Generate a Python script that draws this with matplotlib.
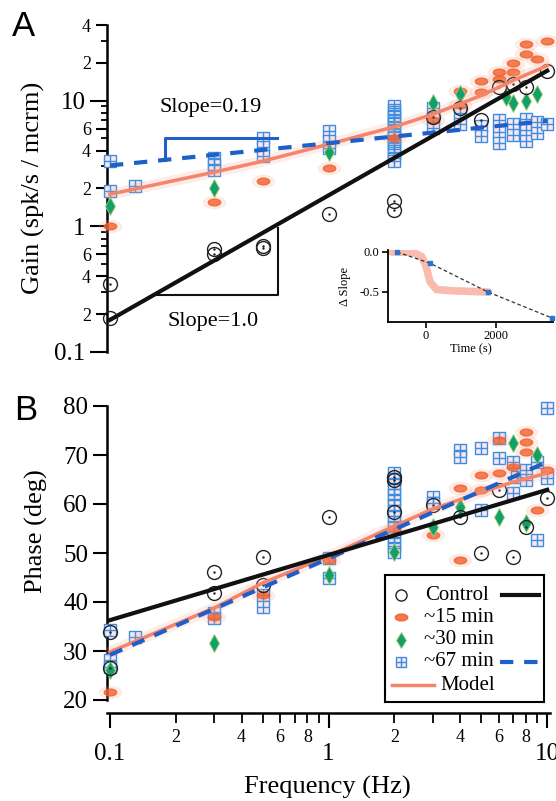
import numpy as np
import matplotlib
matplotlib.use('Agg')
import matplotlib.pyplot as plt
from matplotlib.ticker import NullFormatter, NullLocator

plt.rcParams['font.family'] = ['Liberation Serif', 'DejaVu Serif']

# ---------------- panel A : gain ----------------
ctl_gain_f = [0.1, 0.1, 0.3, 0.3, 0.5, 0.5, 1, 2, 2, 3, 4, 5, 6, 7, 8, 10]
ctl_gain = [0.35, 0.186, 0.66, 0.60, 0.70, 0.67, 1.25, 1.6, 1.35, 7.4, 8.8, 7.0, 12.9, 13.6, 12.9, 17.3]

m15_gain_f = [0.1, 0.3, 0.5, 1, 2, 3, 4, 4, 5, 5, 6, 6, 7, 7, 8, 8, 9, 10]
m15_gain = [1.0, 1.55, 2.3, 2.9, 5.0, 7.0, 9.3, 12.0, 14.4, 11.8, 17.0, 15.0, 20.0, 17.0, 28.0, 23.5, 21.5, 30.0]

m30_gain_f = [0.1, 0.3, 1, 3, 4, 6.5, 7, 8, 9]
m30_gain = [1.44, 2.0, 3.9, 9.5, 11.4, 10.7, 9.5, 10.0, 11.3]

m67_gain_f = [0.1, 0.1, 0.13, 0.3, 0.3, 0.3, 0.5, 0.5, 0.5, 1, 1, 1,
              2, 2, 2, 2, 2, 2, 2, 2, 2, 2, 2, 2, 2, 2, 2, 2,
              3, 3, 3, 4, 4, 5, 5, 6, 6, 6, 7, 7, 8, 8, 8, 9, 9, 10]
m67_gain = [3.3, 1.9, 2.1, 3.5, 3.1, 2.8, 5.0, 4.3, 3.6, 5.7, 4.8, 4.2,
            9.0, 8.4, 7.9, 7.4, 6.9, 6.5, 6.1, 5.7, 5.3, 5.0, 4.7, 4.4, 4.1, 3.8, 3.5, 3.3,
            8.8, 7.3, 6.1, 8.0, 6.5, 6.3, 5.2, 7.0, 5.6, 4.6, 6.5, 5.3, 7.2, 5.8, 4.8, 6.8, 5.5, 6.5]

ctl_fit_f = [0.1, 10]
ctl_fit_gain = [0.18, 17.3]
m67_fit_f = [0.1, 10]
m67_fit_gain = [3.05, 6.9]
model_f = [0.1, 0.3, 0.5, 1, 2, 3, 5, 7, 10]
model_gain = [1.8, 2.7, 3.3, 4.5, 6.2, 7.8, 11.0, 14.5, 19.0]

# slope annotations
tri_f = [0.16, 0.585, 0.585]
tri_gain = [0.283, 0.283, 0.97]
br_f = [0.178, 0.178, 0.58]
br_gain = [3.35, 5.0, 5.0]

# inset: change in slope vs time
inset_t = [-830, 110, 1770, 3600]
inset_ds = [0.0, -0.14, -0.5, -0.825]
inset_model_t = [-980, -360, -120, 0, 110, 300, 780, 1780]
inset_model_ds = [0.0, -0.005, -0.06, -0.18, -0.37, -0.47, -0.485, -0.5]

# ---------------- panel B : phase ----------------
ctl_ph_f = [0.1, 0.1, 0.3, 0.3, 0.5, 0.5, 1, 2, 2, 2, 3, 4, 5, 6, 7, 8, 10]
ctl_ph = [33.9, 26.5, 46.1, 41.8, 49.2, 43.5, 57.3, 65.5, 64.9, 58.4, 59.8, 57.3, 50.0, 62.9, 49.2, 55.3, 61.2]

m15_ph_f = [0.1, 0.3, 0.5, 1, 2, 3, 4, 4, 5, 5, 6, 6, 7, 8, 8, 8, 9, 10]
m15_ph = [21.6, 36.9, 41.4, 48.6, 55.0, 53.7, 63.3, 48.6, 65.9, 62.9, 73.1, 66.3, 67.6, 74.7, 72.7, 70.6, 58.8, 67.0]

m30_ph_f = [0.1, 0.3, 1, 2, 3, 4, 6, 7, 8, 9]
m30_ph = [26.1, 31.6, 45.5, 50.2, 55.3, 59.4, 57.3, 72.4, 56.1, 70.0]

m67_ph_f = [0.1, 0.1, 0.1, 0.13, 0.3, 0.3, 0.5, 0.5, 1, 1,
            2, 2, 2, 2, 2, 2, 2, 2, 2, 2, 2, 2, 2, 2, 2, 2,
            3, 3, 4, 4, 5, 5, 6, 6, 7, 7, 7.3, 8, 8, 9, 9, 10, 10]
m67_ph = [34.3, 28.2, 26.7, 32.9, 37.8, 36.7, 41.4, 39.0, 49.0, 44.9,
          66.3, 65.2, 64.1, 63.0, 61.9, 60.8, 59.7, 58.6, 57.5, 56.4, 55.3, 54.2, 53.1, 52.0, 51.0, 50.2,
          61.4, 60.2, 71.0, 69.6, 71.4, 58.8, 73.5, 69.4, 68.6, 62.2, 65.5, 66.9, 64.9, 68.6, 52.7, 79.6, 65.3]

ctl_fit_ph = [36.3, 62.9]
m67_fit_ph = [29.2, 68.6]
model_ph = [29.8, 38.8, 43.9, 49.4, 55.5, 59.0, 62.4, 64.5, 66.3]

# ---------------- styles ----------------
C_BLUE = '#3a8fe3'
C_DASH = '#1f5fc8'
C_ORANGE = '#f2602e'
C_GLOW = '#f8a488'
C_GREEN = '#12a06a'
C_MODEL = '#f4846a'
theta = np.linspace(0, 2 * np.pi, 41)
ELLIPSE = np.column_stack([np.cos(theta), 0.55 * np.sin(theta)])


def draw_points(ax, cf, cv, of, ov, gf, gv, bf, bv):
    ax.plot(bf, bv, 's', ms=8.5, mfc='#fde6ee', mec=C_BLUE, mew=1.0, ls='none', zorder=3, clip_on=False)
    ax.plot(bf, bv, '+', ms=8.5, color=C_BLUE, mew=1.0, ls='none', zorder=3, clip_on=False)
    ax.plot(of, ov, marker=ELLIPSE, ms=16, color=C_GLOW, alpha=0.16, ls='none', zorder=4, clip_on=False)
    ax.plot(of, ov, marker=ELLIPSE, ms=9, color=C_ORANGE, alpha=0.8, ls='none', zorder=4, clip_on=False)
    ax.plot(gf, gv, 'd', ms=9, mfc=C_GREEN, mec='#a8d070', mew=0.6, ls='none', zorder=5, clip_on=False)
    ax.plot(cf, cv, 'o', ms=10, mfc='none', mec='#222222', mew=1.0, ls='none', zorder=6, clip_on=False)
    ax.plot(cf, cv, '.', ms=1.5, color='#222222', ls='none', zorder=6, clip_on=False)


def draw_model(ax, f, v):
    ax.plot(f, v, color=C_GLOW, lw=8, alpha=0.2, solid_capstyle='round', zorder=7, clip_on=False)
    ax.plot(f, v, color=C_MODEL, lw=2.5, zorder=7, clip_on=False)


fig = plt.figure(figsize=(5.56, 8.01), dpi=100)
W, H = 556.0, 801.0
XLIM = (0.0969, 10.3)

# ---------------- axes A ----------------
axA = fig.add_axes([107 / W, 1 - 352 / H, 443 / W, (352 - 25) / H])
axA.set_xscale('log')
axA.set_yscale('log')
axA.set_xlim(*XLIM)
axA.set_ylim(0.1, 40)
axA.patch.set_alpha(0)

draw_points(axA, ctl_gain_f, ctl_gain, m15_gain_f, m15_gain, m30_gain_f, m30_gain, m67_gain_f, m67_gain)
draw_model(axA, model_f, model_gain)
axA.plot(m67_fit_f, m67_fit_gain, color=C_DASH, lw=3, dashes=(3.2, 2.6), zorder=8, clip_on=False)
axA.plot(ctl_fit_f, ctl_fit_gain, color='#111111', lw=3, zorder=9, clip_on=False)
axA.plot(tri_f, tri_gain, color='#111111', lw=1.5, zorder=9)
axA.plot(br_f, br_gain, color=C_DASH, lw=2.2, zorder=9)
axA.text(0.29, 8.9, 'Slope=0.19', fontsize=16, ha='center', va='center')
axA.text(0.295, 0.176, 'Slope=1.0', fontsize=16, ha='center', va='center')

for s in ['top', 'right', 'bottom']:
    axA.spines[s].set_visible(False)
axA.spines['left'].set_linewidth(1.8)
axA.xaxis.set_major_locator(NullLocator())
axA.xaxis.set_minor_locator(NullLocator())
gain_ticks = [0.1, 0.2, 0.4, 0.6, 1, 2, 4, 6, 10, 20, 40]
gain_tick_text = ['0.1', '2', '4', '6', '1', '2', '4', '6', '10', '2', '4']
gain_minor = [0.3, 0.5, 0.7, 0.8, 0.9, 3, 5, 7, 8, 9, 30]
axA.set_yticks(gain_ticks)
axA.set_yticklabels(gain_tick_text)
axA.set_yticks(gain_minor, minor=True)
axA.yaxis.set_minor_formatter(NullFormatter())
axA.tick_params(axis='y', which='minor', length=4.5, width=1.3)
axA.tick_params(axis='y', which='major', width=1.5)
for t, v in zip(axA.yaxis.get_major_ticks(), gain_ticks):
    if v in (0.1, 1, 10):
        t._apply_params(size=12, labelsize=18)
    else:
        t._apply_params(size=8, labelsize=13)

# inset
axI = fig.add_axes([388 / W, 1 - 322 / H, 165 / W, 72 / H])
axI.patch.set_alpha(0)
axI.set_xlim(-1090, 3630)
axI.set_ylim(-0.875, 0.025)
axI.plot(inset_model_t, inset_model_ds, color=C_MODEL, lw=5.5, alpha=0.55, solid_joinstyle='round',
         solid_capstyle='round')
axI.plot(inset_t, inset_ds, color='#333333', lw=0.9, dashes=(3, 2))
axI.plot(inset_t, inset_ds, 's', ms=3.5, color='#2a74d6', clip_on=False)
for s in ['top', 'right']:
    axI.spines[s].set_visible(False)
for s in ['left', 'bottom']:
    axI.spines[s].set_linewidth(1.3)
axI.set_yticks([0.0, -0.5])
axI.set_yticklabels(['0.0', '-0.5'])
axI.set_xticks([0, 2000])
axI.tick_params(labelsize=9, length=4, width=1.2, pad=2)
axI.set_ylabel('\u0394 Slope', fontsize=9, labelpad=6)
axI.set_xlabel('Time (s)', fontsize=9, labelpad=1)

# ---------------- axes B ----------------
axB = fig.add_axes([107 / W, 1 - 700 / H, 443 / W, (700 - 406) / H])
axB.set_xscale('log')
axB.set_xlim(*XLIM)
axB.set_ylim(20, 80)
axB.patch.set_alpha(0)

draw_points(axB, ctl_ph_f, ctl_ph, m15_ph_f, m15_ph, m30_ph_f, m30_ph, m67_ph_f, m67_ph)
draw_model(axB, model_f, model_ph)
axB.plot(m67_fit_f, m67_fit_ph, color=C_DASH, lw=3, dashes=(3.2, 2.6), zorder=8, clip_on=False)
axB.plot(ctl_fit_f, ctl_fit_ph, color='#111111', lw=3, zorder=9, clip_on=False)

for s in ['top', 'right']:
    axB.spines[s].set_visible(False)
axB.spines['left'].set_linewidth(1.8)
axB.spines['bottom'].set_linewidth(1.8)
axB.spines['bottom'].set_position(('outward', 9))
axB.set_yticks([20, 30, 40, 50, 60, 70, 80])
axB.tick_params(axis='y', labelsize=18, length=10, width=1.5)
axB.set_xticks([0.1, 1, 10])
axB.set_xticklabels(['0.1', '1', '10'])
freq_minor = [0.2, 0.3, 0.4, 0.5, 0.6, 0.7, 0.8, 0.9, 2, 3, 4, 5, 6, 7, 8, 9]
freq_minor_text = ['2', '', '4', '', '6', '', '8', '', '2', '', '4', '', '6', '', '8', '']
axB.set_xticks(freq_minor, minor=True)
axB.set_xticklabels(freq_minor_text, minor=True)
axB.tick_params(axis='x', which='major', labelsize=18, length=11, width=1.5, pad=11)
axB.tick_params(axis='x', which='minor', labelsize=13, length=7, width=1.3, pad=5)

# legend box
lg = fig.add_axes([385 / W, 1 - 702 / H, 159 / W, 127 / H])
lg.set_xlim(385, 544)
lg.set_ylim(702, 575)
lg.set_xticks([])
lg.set_yticks([])
for s in lg.spines.values():
    s.set_linewidth(1.5)
rows = [595, 617, 640, 662, 685]
lg.plot([401], [rows[0]], 'o', ms=8, mfc='none', mec='#222222', mew=1.0)
lg.plot([401], [rows[1]], marker=ELLIPSE, ms=9, color=C_ORANGE, alpha=0.85, ls='none')
lg.plot([401], [rows[2]], 'd', ms=8, mfc=C_GREEN, mec='#a8d070', mew=0.6, ls='none')
lg.plot([401], [rows[3]], 's', ms=7.5, mfc='#fde6ee', mec=C_BLUE, mew=1.0, ls='none')
lg.plot([401], [rows[3]], '+', ms=7.5, color=C_BLUE, mew=1.0, ls='none')
lg.plot([502, 539], [rows[0], rows[0]], color='#111111', lw=3)
lg.plot([500, 539], [rows[3], rows[3]], color=C_DASH, lw=3, dashes=(3.2, 2.6))
lg.plot([392, 434], [rows[4], rows[4]], color=C_MODEL, lw=2.5)
for y, txt, x in zip(rows, ['Control', '~15 min', '~30 min', '~67 min', 'Model'],
                     [425, 424, 424, 424, 440]):
    lg.text(x, y, txt, fontsize=15, ha='left', va='center')

# labels
fig.text(33 / W, 1 - 188 / H, 'Gain (spk/s / mcrm)', rotation=90, ha='center', va='center', fontsize=19)
fig.text(36 / W, 1 - 531 / H, 'Phase (deg)', rotation=90, ha='center', va='center', fontsize=19)
fig.text(327 / W, 1 - 787 / H, 'Frequency (Hz)', ha='center', va='center', fontsize=19)
fig.text(12 / W, 1 - 36 / H, 'A', fontsize=25, family='Liberation Sans', va='baseline')
fig.text(14 / W, 1 - 420 / H, 'B', fontsize=25, family='Liberation Sans', va='baseline')

fig.savefig('out.png', dpi=100)
